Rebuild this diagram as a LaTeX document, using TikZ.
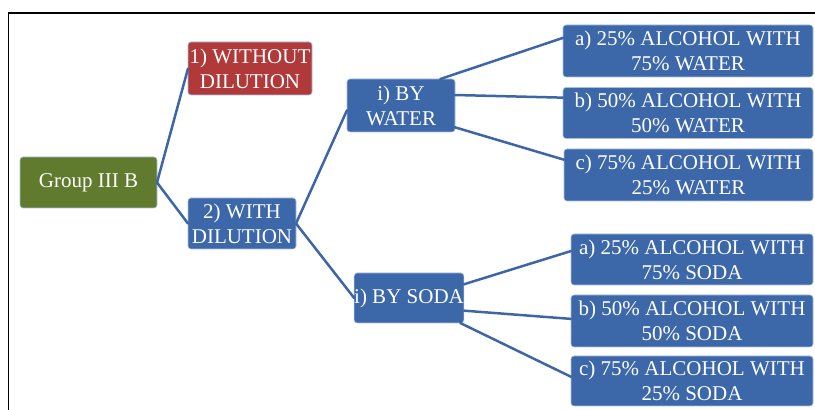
\documentclass[tikz,border=0pt]{standalone}
\usepackage{fontspec}
\setmainfont{Liberation Serif}

\begin{document}
\begin{tikzpicture}[x=1pt,y=1pt,
  box/.style={rounded corners=3pt,inner sep=0pt,outer sep=0pt,align=center,
    text=white,font=\fontsize{21}{25}\selectfont,draw=edgeColor,line width=0.6pt},
  bluebox/.style={box,fill=blueColor},
  link/.style={draw=lineColor,line width=2.5pt,line cap=round}]
\definecolor{blueColor}{RGB}{60,103,168}
\definecolor{redColor}{RGB}{176,57,57}
\definecolor{greenColor}{RGB}{96,122,46}
\definecolor{lineColor}{RGB}{62,102,166}
\definecolor{edgeColor}{RGB}{170,190,220}
\path[use as bounding box,fill=white] (0,0) rectangle (815,410);

% frame
\path[draw=black,line width=1.6pt] (8.5,0) -- (8.5,397) -- (815,397);

% first level
\node[box,fill=greenColor,minimum width=137,minimum height=51] (group) at ( 88.5,227.5) {Group III B};
\node[box,fill=redColor,minimum width=124,minimum height=53] (without) at (250.0,341.5) {1) WITHOUT\\DILUTION};
\node[bluebox,minimum width=108,minimum height=51] (with) at (242.0,186.5) {2) WITH\\DILUTION};

% second level
\node[bluebox,minimum width=108,minimum height=53] (water) at (401.0,304.5) {i) BY\\WATER};
\node[bluebox,minimum width=106,minimum height=50] (soda) at (409.0,112.0) {i) BY SODA};

% third level
\node[bluebox,minimum width=250,minimum height=52] (wa) at (688.0,359.0) {a) 25\% ALCOHOL WITH\\75\% WATER};
\node[bluebox,minimum width=250,minimum height=51] (wb) at (688.0,297.0) {b) 50\% ALCOHOL WITH\\50\% WATER};
\node[bluebox,minimum width=249,minimum height=52] (wc) at (688.5,235.0) {c) 75\% ALCOHOL WITH\\25\% WATER};
\node[bluebox,minimum width=242,minimum height=51] (sa) at (692.0,150.5) {a) 25\% ALCOHOL WITH\\75\% SODA};
\node[bluebox,minimum width=242,minimum height=52] (sb) at (692.0, 89.0) {b) 50\% ALCOHOL WITH\\50\% SODA};
\node[bluebox,minimum width=242,minimum height=50] (sc) at (692.0, 29.0) {c) 75\% ALCOHOL WITH\\25\% SODA};

% connectors
\path[link] (group.east) -- (without.west);
\path[link] (group.east) -- (with.west);
\path[link] (with.east) -- (water.185);
\path[link] (with.east) -- (soda.west);
\path[link] (water.34) -- (wa.174);
\path[link] (water.11) -- (wb.173);
\path[link] (water.338) -- (wc.173);
\path[link] (soda.14) -- (sa.176);
\path[link] (soda.347) -- (sb.179);
\path[link] (soda.334) -- (sc.178);
\end{tikzpicture}
\end{document}
